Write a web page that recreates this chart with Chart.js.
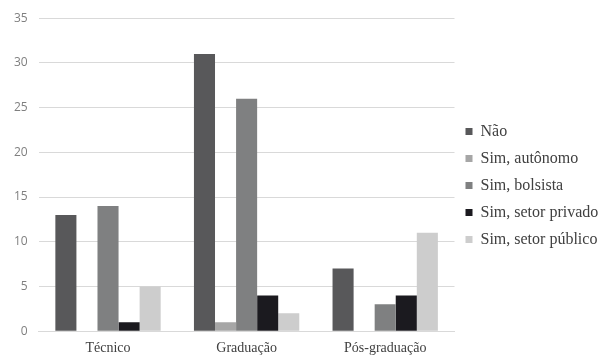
<!DOCTYPE html>
<html>
<head>
<meta charset="utf-8">
<script src="https://cdn.jsdelivr.net/npm/chart.js@4/dist/chart.umd.min.js"></script>
<style>
html,body{margin:0;padding:0;background:#fff;}
#wrap{width:598px;height:358px;position:relative;}
</style>
</head>
<body>
<div id="wrap"><canvas id="c"></canvas></div>
<script>
const categories = ["Técnico", "Graduação", "Pós-graduação"];
const seriesNames = ["Não", "Sim, autônomo", "Sim, bolsista", "Sim, setor privado", "Sim, setor público"];
const nao = [13, 31, 7];
const simAutonomo = [0, 1, 0];
const simBolsista = [14, 26, 3];
const simPrivado = [1, 4, 4];
const simPublico = [5, 2, 11];
const yTicks = [0, 5, 10, 15, 20, 25, 30, 35];

const colors = ["#58585a", "#a6a6a6", "#7f8081", "#1b1a1f", "#cdcdcd"];
const values = [nao, simAutonomo, simBolsista, simPrivado, simPublico];

Chart.defaults.font.family = 'Liberation Serif';
Chart.defaults.font.size = 14;

new Chart(document.getElementById('c'), {
  type: 'bar',
  data: {
    labels: categories,
    datasets: seriesNames.map((n, i) => ({
      label: n,
      data: values[i],
      backgroundColor: colors[i],
      borderWidth: 0,
      categoryPercentage: 0.76,
      barPercentage: 1.0
    }))
  },
  options: {
    responsive: true,
    maintainAspectRatio: false,
    animation: false,
    layout: { padding: { top: 13, right: -7, bottom: 0, left: 3 } },
    plugins: {
      tooltip: { enabled: false },
      legend: {
        position: 'right',
        align: 'center',
        labels: {
          boxWidth: 7,
          boxHeight: 7,
          padding: 11,
          color: '#404040',
          font: { family: 'Liberation Serif', size: 16 }
        }
      }
    },
    scales: {
      x: {
        grid: { display: false },
        border: { display: true, color: '#d9d9d9', width: 1 },
        ticks: {
          color: '#404040',
          padding: 1,
          font: { family: 'Liberation Serif', size: 14 }
        }
      },
      y: {
        min: 0,
        max: 35,
        afterBuildTicks: (axis) => { axis.ticks = yTicks.map(v => ({ value: v })); },
        grid: { color: '#d9d9d9', drawTicks: false, lineWidth: 1 },
        border: { display: false },
        ticks: {
          color: '#7f7f7f',
          padding: 11,
          font: { family: 'Open Sans', size: 12 }
        }
      }
    }
  }
});
</script>
</body>
</html>
